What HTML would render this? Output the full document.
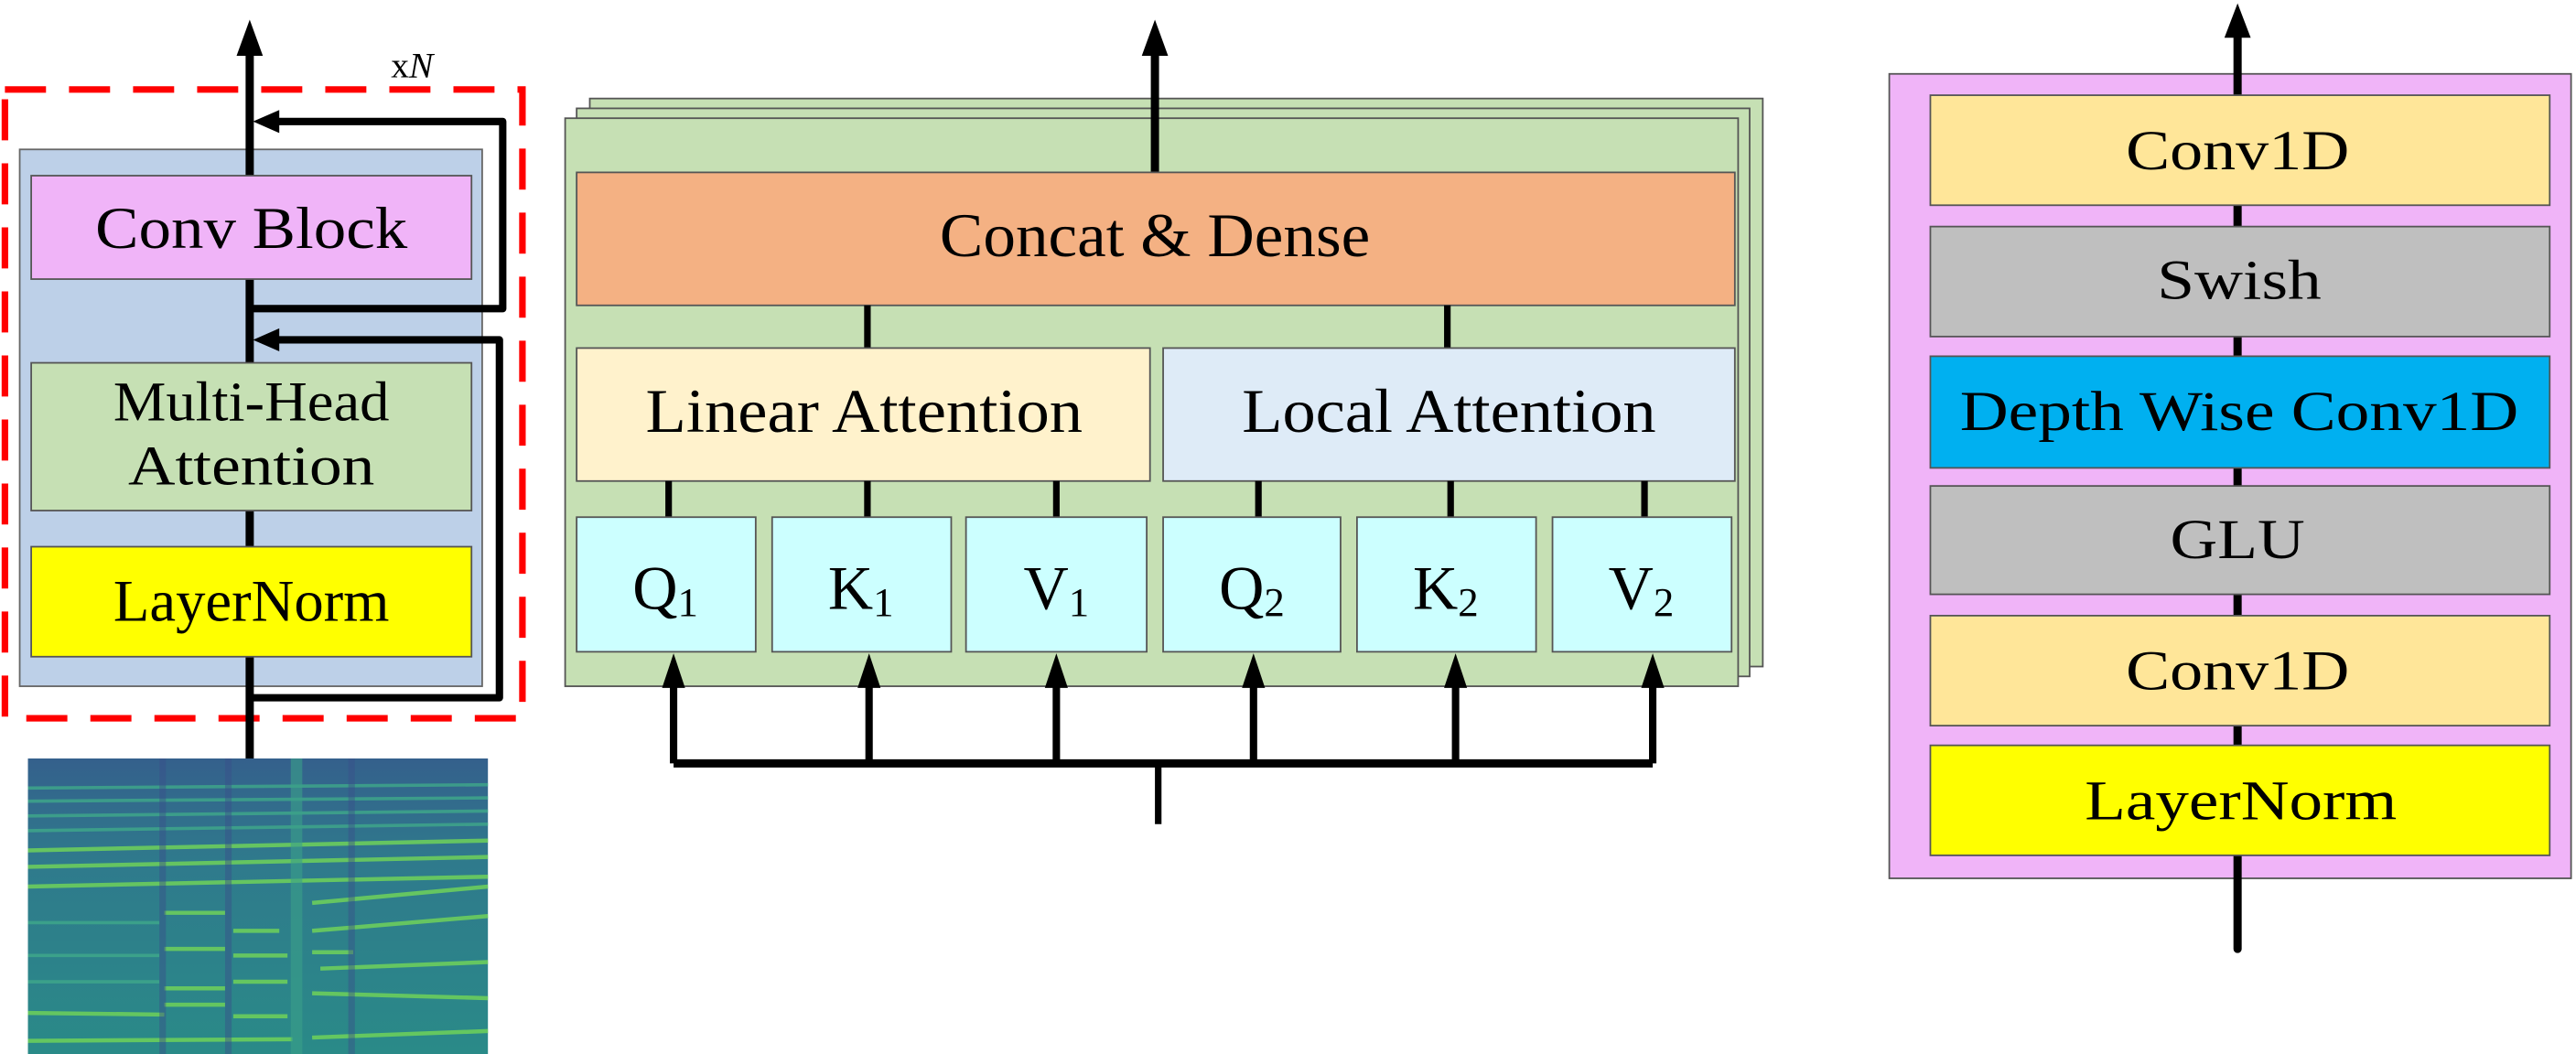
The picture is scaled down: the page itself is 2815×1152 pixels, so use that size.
<!DOCTYPE html>
<html><head><meta charset="utf-8"><style>html,body{margin:0;padding:0;background:#fff}svg{display:block}text{font-family:"Liberation Serif","Times New Roman",serif}</style></head>
<body>
<svg width="2815" height="1152" viewBox="0 0 1568 642" preserveAspectRatio="none" xmlns="http://www.w3.org/2000/svg">
<defs>
<linearGradient id="sg" x1="0" y1="0" x2="0" y2="1">
<stop offset="0" stop-color="#34608c"/><stop offset="0.35" stop-color="#2f7a8c"/><stop offset="1" stop-color="#2a8a88"/>
</linearGradient>
</defs>
<!-- LEFT PANEL -->
<rect x="3" y="54.5" width="315" height="383" fill="none" stroke="#ff0000" stroke-width="4" stroke-dasharray="25 14"/>
<text x="238" y="47" font-size="22">x<tspan font-style="italic">N</tspan></text>
<rect x="12" y="91" width="281.5" height="327" fill="#bdd0e8" stroke="#666" stroke-width="1"/>
<line x1="152" y1="30" x2="152" y2="463" stroke="#000" stroke-width="5"/>
<polygon points="152,12 144,34 160,34" fill="#000"/>
<rect x="19" y="107" width="268" height="63" fill="#f0b4f8" stroke="#555" stroke-width="1"/>
<text x="153" y="151" font-size="36" text-anchor="middle" textLength="190" lengthAdjust="spacingAndGlyphs">Conv Block</text>
<rect x="19" y="221" width="268" height="90" fill="#c6e0b4" stroke="#555" stroke-width="1"/>
<text x="153" y="256" font-size="34" text-anchor="middle" textLength="168" lengthAdjust="spacingAndGlyphs">Multi-Head</text>
<text x="153" y="295" font-size="34" text-anchor="middle" textLength="150" lengthAdjust="spacingAndGlyphs">Attention</text>
<rect x="19" y="333" width="268" height="67" fill="#ffff00" stroke="#555" stroke-width="1"/>
<text x="153" y="378" font-size="36" text-anchor="middle" textLength="168" lengthAdjust="spacingAndGlyphs">LayerNorm</text>
<!-- skip loops -->
<polyline points="152,188 306,188 306,74 168,74" fill="none" stroke="#000" stroke-width="4.5" stroke-linejoin="round"/>
<polygon points="154,74 170,67 170,81" fill="#000"/>
<polyline points="152,425 304,425 304,207 168,207" fill="none" stroke="#000" stroke-width="4.5" stroke-linejoin="round"/>
<polygon points="154,207 170,200 170,214" fill="#000"/>
<!-- spectrogram -->
<rect x="17" y="462" width="280" height="180" fill="url(#sg)"/>
<g stroke="#6fd25a" stroke-width="2.5" opacity="0.85">
<line x1="17" y1="634" x2="178" y2="633"/><line x1="190" y1="632" x2="297" y2="628"/>
<line x1="17" y1="617" x2="100" y2="618"/><line x1="100" y1="612" x2="137" y2="612"/><line x1="142" y1="619" x2="175" y2="619"/><line x1="190" y1="605" x2="297" y2="608"/>
<line x1="100" y1="602" x2="137" y2="602"/><line x1="142" y1="598" x2="175" y2="598"/><line x1="195" y1="590" x2="297" y2="586"/>
<line x1="100" y1="578" x2="137" y2="578"/><line x1="142" y1="582" x2="175" y2="582"/><line x1="190" y1="580" x2="215" y2="580"/>
<line x1="142" y1="567" x2="170" y2="567"/><line x1="190" y1="567" x2="297" y2="558"/>
<line x1="100" y1="556" x2="137" y2="556"/><line x1="190" y1="550" x2="297" y2="540"/>
<line x1="17" y1="540" x2="297" y2="534"/>
<line x1="17" y1="528" x2="297" y2="522"/>
<line x1="17" y1="518" x2="297" y2="512"/>
</g>
<g stroke="#3fa98a" stroke-width="2" opacity="0.8">
<line x1="17" y1="562" x2="97" y2="562"/>
<line x1="17" y1="582" x2="97" y2="582"/>
<line x1="17" y1="598" x2="97" y2="598"/>
<line x1="17" y1="506" x2="297" y2="502"/>
<line x1="17" y1="497" x2="297" y2="494"/>
<line x1="17" y1="488" x2="297" y2="486"/>
<line x1="17" y1="480" x2="297" y2="478"/>
</g>
<g fill="#3a4f8a" opacity="0.45">
<rect x="97" y="462" width="4" height="180"/>
<rect x="137" y="462" width="4" height="180"/>
<rect x="212" y="462" width="4" height="180"/>
</g>
<rect x="177" y="462" width="7" height="180" fill="#3aa088" opacity="0.6"/>
<!-- MIDDLE PANEL -->
<rect x="359" y="60" width="714" height="346" fill="#c6e0b4" stroke="#555" stroke-width="1"/>
<rect x="351" y="66" width="714" height="346" fill="#c6e0b4" stroke="#555" stroke-width="1"/>
<rect x="344" y="72" width="714" height="346" fill="#c6e0b4" stroke="#555" stroke-width="1"/>
<line x1="703" y1="32" x2="703" y2="105" stroke="#000" stroke-width="5"/>
<polygon points="703,12 695,34 711,34" fill="#000"/>
<rect x="351" y="105" width="705" height="81" fill="#f4b183" stroke="#555" stroke-width="1"/>
<text x="703" y="156" font-size="38" text-anchor="middle" textLength="262" lengthAdjust="spacingAndGlyphs">Concat &amp; Dense</text>
<line x1="528" y1="186" x2="528" y2="212" stroke="#000" stroke-width="4"/>
<line x1="881" y1="186" x2="881" y2="212" stroke="#000" stroke-width="4"/>
<rect x="351" y="212" width="349" height="81" fill="#fff2cc" stroke="#555" stroke-width="1"/>
<text x="526" y="263" font-size="38" text-anchor="middle" textLength="266" lengthAdjust="spacingAndGlyphs">Linear Attention</text>
<rect x="708" y="212" width="348" height="81" fill="#deebf7" stroke="#555" stroke-width="1"/>
<text x="882" y="263" font-size="38" text-anchor="middle" textLength="252" lengthAdjust="spacingAndGlyphs">Local Attention</text>
<g stroke="#000" stroke-width="4">
<line x1="407" y1="293" x2="407" y2="315"/>
<line x1="528" y1="293" x2="528" y2="315"/>
<line x1="643" y1="293" x2="643" y2="315"/>
<line x1="766" y1="293" x2="766" y2="315"/>
<line x1="883" y1="293" x2="883" y2="315"/>
<line x1="1001" y1="293" x2="1001" y2="315"/>
</g>
<g fill="#ccffff" stroke="#555" stroke-width="1">
<rect x="351" y="315" width="109" height="82"/>
<rect x="470" y="315" width="109" height="82"/>
<rect x="588" y="315" width="110" height="82"/>
<rect x="708" y="315" width="108" height="82"/>
<rect x="826" y="315" width="109" height="82"/>
<rect x="945" y="315" width="109" height="82"/>
</g>
<g font-size="38" text-anchor="middle">
<text x="405" y="371">Q<tspan font-size="25" dy="4">1</tspan></text>
<text x="524" y="371">K<tspan font-size="25" dy="4">1</tspan></text>
<text x="643" y="371">V<tspan font-size="25" dy="4">1</tspan></text>
<text x="762" y="371">Q<tspan font-size="25" dy="4">2</tspan></text>
<text x="880" y="371">K<tspan font-size="25" dy="4">2</tspan></text>
<text x="999" y="371">V<tspan font-size="25" dy="4">2</tspan></text>
</g>
<polyline points="410,465 1006,465" stroke="#000" stroke-width="5" fill="none"/>
<line x1="705" y1="465" x2="705" y2="502" stroke="#000" stroke-width="4"/>
<g stroke="#000" stroke-width="4.5">
<line x1="410" y1="465" x2="410" y2="415"/>
<line x1="529" y1="465" x2="529" y2="415"/>
<line x1="643" y1="465" x2="643" y2="415"/>
<line x1="763" y1="465" x2="763" y2="415"/>
<line x1="886" y1="465" x2="886" y2="415"/>
<line x1="1006" y1="465" x2="1006" y2="415"/>
</g>
<g fill="#000">
<polygon points="410,398 403,419 417,419"/>
<polygon points="529,398 522,419 536,419"/>
<polygon points="643,398 636,419 650,419"/>
<polygon points="763,398 756,419 770,419"/>
<polygon points="886,398 879,419 893,419"/>
<polygon points="1006,398 999,419 1013,419"/>
</g>
<!-- RIGHT PANEL -->
<rect x="1150" y="45" width="415" height="490" fill="#f0b4f8" stroke="#555" stroke-width="1"/>
<line x1="1362" y1="22" x2="1362" y2="578" stroke="#000" stroke-width="5" stroke-linecap="round"/>
<polygon points="1362,2 1354,23 1370,23" fill="#000"/>
<g stroke="#555" stroke-width="1">
<rect x="1175" y="58" width="377" height="67" fill="#ffe699"/>
<rect x="1175" y="138" width="377" height="67" fill="#bfbfbf"/>
<rect x="1175" y="217" width="377" height="68" fill="#00b0f0"/>
<rect x="1175" y="296" width="377" height="66" fill="#bfbfbf"/>
<rect x="1175" y="375" width="377" height="67" fill="#ffe699"/>
<rect x="1175" y="454" width="377" height="67" fill="#ffff00"/>
</g>
<g font-size="34" text-anchor="middle">
<text x="1362" y="103" textLength="136" lengthAdjust="spacingAndGlyphs">Conv1D</text>
<text x="1363" y="182" textLength="100" lengthAdjust="spacingAndGlyphs">Swish</text>
<text x="1363" y="262" textLength="340" lengthAdjust="spacingAndGlyphs">Depth Wise Conv1D</text>
<text x="1362" y="340" textLength="82" lengthAdjust="spacingAndGlyphs">GLU</text>
<text x="1362" y="420" textLength="136" lengthAdjust="spacingAndGlyphs">Conv1D</text>
<text x="1364" y="499" textLength="190" lengthAdjust="spacingAndGlyphs">LayerNorm</text>
</g>
</svg>
</body></html>
